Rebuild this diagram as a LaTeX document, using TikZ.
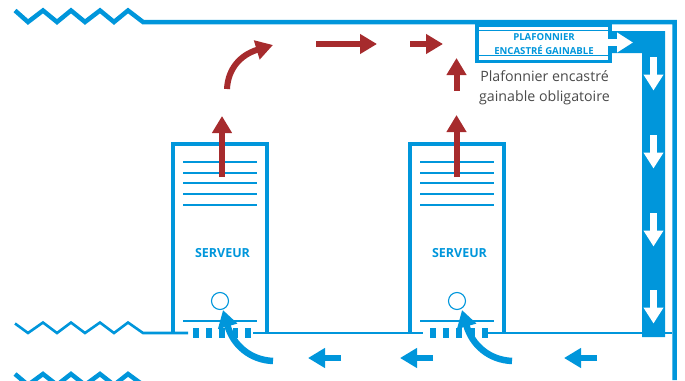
\documentclass[tikz,border=0pt]{standalone}
\usepackage{fontspec}
\setmainfont{Open Sans}
\usetikzlibrary{arrows.meta}
\definecolor{duct}{HTML}{0096DB}
\definecolor{hot}{HTML}{A62B2D}
\definecolor{note}{HTML}{4A4A4A}
\tikzset{
  wall/.style={draw=duct,line width=4.5pt,line join=miter},
  floorline/.style={draw=duct,line width=2.6pt},
  vent/.style={draw=duct,line width=1.3pt},
  redarrow/.style={draw=hot,line width=6pt,-{Triangle[width=19pt,length=17pt]}},
  bluearrow/.style={draw=duct,line width=6.5pt,-{Triangle[width=19pt,length=17pt]}},
  whitearrow/.style={draw=white,line width=6.5pt,-{Triangle[width=19pt,length=16pt]}},
  label/.style={text=duct,font=\bfseries,inner sep=0pt},
  notetext/.style={text=note,inner sep=0pt,font=\fontsize{14.2}{20}\selectfont,align=center}
}
\begin{document}
\begin{tikzpicture}[x=1pt,y=-1pt]
\useasboundingbox (0,0) rectangle (685,380);
\clip (0,0) rectangle (685,380);
% top wall and right wall
\draw[wall] (15,10.5) -- (28,22) -- (43,10.5) -- (57,22) -- (71,10.5) -- (85,22) -- (100,10.5) -- (114,22) -- (128,10.5) -- (143,22) -- (674.5,22) -- (674.5,380);
% lower wave
\draw[wall] (15,374) -- (28,385) -- (43,374) -- (57,385) -- (71,374) -- (85,385) -- (100,374) -- (114,385) -- (128,374) -- (143,385);
% floor
\draw[floorline] (15,323.5) -- (28,333) -- (43,322.5) -- (57,333) -- (71,322.5) -- (85,333) -- (100,322.5) -- (114,333) -- (128,322.5) -- (143,333) -- (188,333);
\draw[floorline] (253,333) -- (423,333);
\draw[floorline] (488,333) -- (672,333);
% duct
\fill[duct] (612,31) -- (665,31) -- (665,337) -- (642,337) -- (642,53) -- (612,53) -- cycle;
% ceiling unit
\fill[duct] (475,24) rectangle (612,63);
\fill[white] (479,26.5) rectangle (608,59.5);
\draw[duct,line width=0.9pt] (479,30) -- (608,30);
\draw[duct,line width=0.9pt] (479,55.5) -- (608,55.5);
\fill[white] (481,31) rectangle (606,54.5);
\node[label,font=\bfseries\fontsize{9.6}{12}\selectfont] (unita) at (544,37) {PLAFONNIER};
\node[label,font=\bfseries\fontsize{9.6}{12}\selectfont] (unitb) at (544,50) {ENCASTRÉ GAINABLE};
\node[notetext] (note) at (544.5,88) {Plafonnier encastré\\gainable obligatoire};
% servers
\foreach \l/\n in {173/a,410/b}{
  \draw[wall,line width=4pt] (\l,333) -- (\l,144) -- (\l+94,144) -- (\l+94,333);
  \foreach \y in {162,173,183,194,205}{
    \draw[vent] (\l+10,\y) -- (\l+84,\y);
  }
  \draw[vent] (\l+10,321) -- (\l+84,321);
  \draw[duct,line width=1.1pt] (\l+47,301) circle (8.5);
  \foreach \d in {0,13,26,39.5,52}{
    \fill[duct] (\l+20+\d,328) rectangle +(5.5,10);
  }
  \node[label,font=\bfseries\fontsize{12.5}{15}\selectfont] (srv\n) at (\l+49.5,253) {SERVEUR};
}
% red arrows
\coordinate (ra1) at (222,177); \coordinate (ra2) at (222,116);
\coordinate (rb1) at (456.5,177); \coordinate (rb2) at (456.5,115);
\coordinate (rc1) at (456.5,91); \coordinate (rc2) at (456.5,58);
\coordinate (rd1) at (227,89); \coordinate (rd2) at (273,45);
\coordinate (re1) at (316,44); \coordinate (re2) at (377,44);
\coordinate (rf1) at (410,44); \coordinate (rf2) at (443,44);
\draw[redarrow] (ra1) -- (ra2);
\draw[redarrow] (rb1) -- (rb2);
\draw[redarrow] (rc1) -- (rc2);
\draw[redarrow] (rd1) .. controls (228,69) and (240,55) .. (rd2);
\draw[redarrow] (re1) -- (re2);
\draw[redarrow] (rf1) -- (rf2);
% blue arrows
\coordinate (ba1) at (597,358); \coordinate (ba2) at (564,358);
\coordinate (bb1) at (433,358); \coordinate (bb2) at (400,358);
\coordinate (bc1) at (341,358); \coordinate (bc2) at (308,358);
\coordinate (bd1) at (273,361); \coordinate (bd2) at (223,310);
\coordinate (be1) at (512,361); \coordinate (be2) at (462,310);
\draw[bluearrow] (ba1) -- (ba2);
\draw[bluearrow] (bb1) -- (bb2);
\draw[bluearrow] (bc1) -- (bc2);
\draw[bluearrow] (bd1) .. controls (250,360) and (233,345) .. (bd2);
\draw[bluearrow] (be1) .. controls (489,360) and (472,345) .. (be2);
% white arrows
\coordinate (wa1) at (606,42.5); \coordinate (wa2) at (633,42.5);
\draw[whitearrow] (wa1) -- (wa2);
\foreach \y in {57,135,213,290}{
  \coordinate (w1) at (653.5,\y);
  \coordinate (w2) at (653.5,\y+33.5);
  \draw[whitearrow] (w1) -- (w2);
}
\end{tikzpicture}
\end{document}
